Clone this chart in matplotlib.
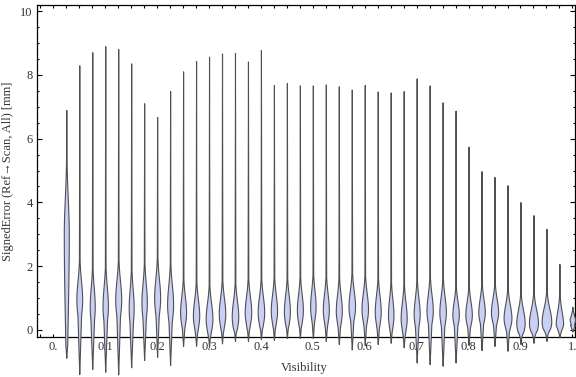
import numpy as np
import matplotlib.pyplot as plt
from matplotlib.ticker import MultipleLocator

# visibility bins (violin centres)
visibility = [round(0.025 * k, 3) for k in range(1, 41)]

# signed error per bin [mm]: extremes, peak position of the density
err_max = [6.90, 8.30, 8.71, 8.90, 8.81, 8.36, 7.11, 6.68, 7.50, 8.11,
           8.43, 8.57, 8.67, 8.69, 8.42, 8.78, 7.68, 7.75, 7.67, 7.67,
           7.70, 7.64, 7.54, 7.68, 7.48, 7.45, 7.49, 7.89, 7.67, 7.14,
           6.88, 5.75, 4.98, 4.80, 4.54, 4.01, 3.60, 3.17, 2.07, 0.73]
err_min = [-0.87, -1.38, -1.22, -1.31, -1.39, -1.17, -0.94, -0.84, -1.10, -0.50,
           -0.50, -0.54, -0.42, -0.34, -0.34, -0.29, -0.31, -0.25, -0.25, -0.25,
           -0.34, -0.44, -0.61, -0.47, -0.44, -0.40, -0.54, -1.02, -1.07, -1.12,
           -1.02, -0.47, -0.63, -0.50, -0.65, -0.44, -0.40, -0.34, -0.23, -0.05]
err_mode = [3.00, 0.94, 0.73, 0.75, 0.94, 0.68, 0.85, 1.00, 0.80, 0.55,
            0.45, 0.35, 0.50, 0.42, 0.55, 0.55, 0.60, 0.58, 0.62, 0.73,
            0.63, 0.60, 0.73, 0.65, 0.57, 0.47, 0.37, 0.50, 0.60, 0.55,
            0.47, 0.47, 0.55, 0.55, 0.37, 0.21, 0.22, 0.26, 0.16, 0.16]
# density shape: full width at the peak (px) and spread above / below the peak
peak_width = [5.0, 5.8, 5.0, 5.4, 6.0, 5.0, 5.4, 6.0, 6.0, 6.0,
              6.3, 6.7, 6.5, 6.5, 6.5, 6.5, 6.3, 6.0, 6.0, 5.5,
              6.0, 6.0, 6.5, 6.5, 6.0, 5.5, 6.0, 6.0, 6.3, 6.5,
              6.5, 6.5, 6.5, 7.2, 7.8, 8.4, 9.0, 9.6, 7.4, 6.2]
spread_up = [1.1] + [0.6] * 8 + [0.5] * 21 + [0.42] * 10
spread_low = [2.5] + [0.5] * 8 + [0.38] * 21 + [0.3] * 10

plt.rcParams['font.family'] = ['Liberation Serif', 'DejaVu Serif']
plt.rcParams['font.size'] = 9
label_col = '#333333'

fig = plt.figure(figsize=(5.76, 3.77), dpi=100)
ax_rect = [36.7 / 576, 1 - 337.3 / 377, (575.5 - 36.7) / 576, (337.3 - 4.7) / 377]
ax = fig.add_axes(ax_rect)
xlim = (-0.032, 1.006)
px = (xlim[1] - xlim[0]) / (ax_rect[2] * 576)  # data units per pixel

for x, lo, hi, m, w, su, sl in zip(visibility, err_min, err_max, err_mode,
                                   peak_width, spread_up, spread_low):
    y = np.linspace(lo, hi, 600)
    z = np.where(y >= m, (y - m) / su, (y - m) / sl)
    body = 0.5 * w * np.exp(-0.5 * z ** 2)
    body *= np.clip((y - lo) / 0.4, 0, 1) * np.clip((hi - y) / 0.4, 0, 1)
    tail = np.where(y >= m, 0.4 * (hi - y) / (hi - m), 2.3 * (y - lo) / (m - lo))
    half = np.maximum(body, tail) * px
    ax.fill_betweenx(y, x - half, x + half, facecolor='#c9cff5', edgecolor='#505050',
                     linewidth=0.8, clip_on=False, zorder=3)

ax.set_xlim(*xlim)
ax.set_ylim(-0.229, 10.2)

ax.set_xticks(np.arange(0, 1.01, 0.1))
ax.set_xticklabels(['0.', '0.1', '0.2', '0.3', '0.4', '0.5', '0.6', '0.7', '0.8', '0.9', '1.'])
ax.xaxis.set_minor_locator(MultipleLocator(0.025))
ax.set_yticks([0, 2, 4, 6, 8, 10])
ax.yaxis.set_minor_locator(MultipleLocator(0.5))

ax.tick_params(axis='x', which='both', direction='in', length=2.3, width=0.8,
               top=True, pad=3, labelcolor=label_col)
ax.tick_params(axis='y', which='major', direction='in', length=3.6, width=0.8,
               right=True, pad=3, labelcolor=label_col)
ax.tick_params(axis='y', which='minor', direction='in', length=1.5, width=0.8, right=True)
for s in ax.spines.values():
    s.set_linewidth(0.9)

fig.text(304 / 576, 1 - 368 / 377, 'Visibility', ha='center', va='center', color=label_col)
fig.text(8 / 576, 1 - 171 / 377, 'SignedError (Ref\u2192Scan, All) [mm]', rotation=90,
         ha='center', va='center', color=label_col)

fig.savefig('out.png', dpi=100)
